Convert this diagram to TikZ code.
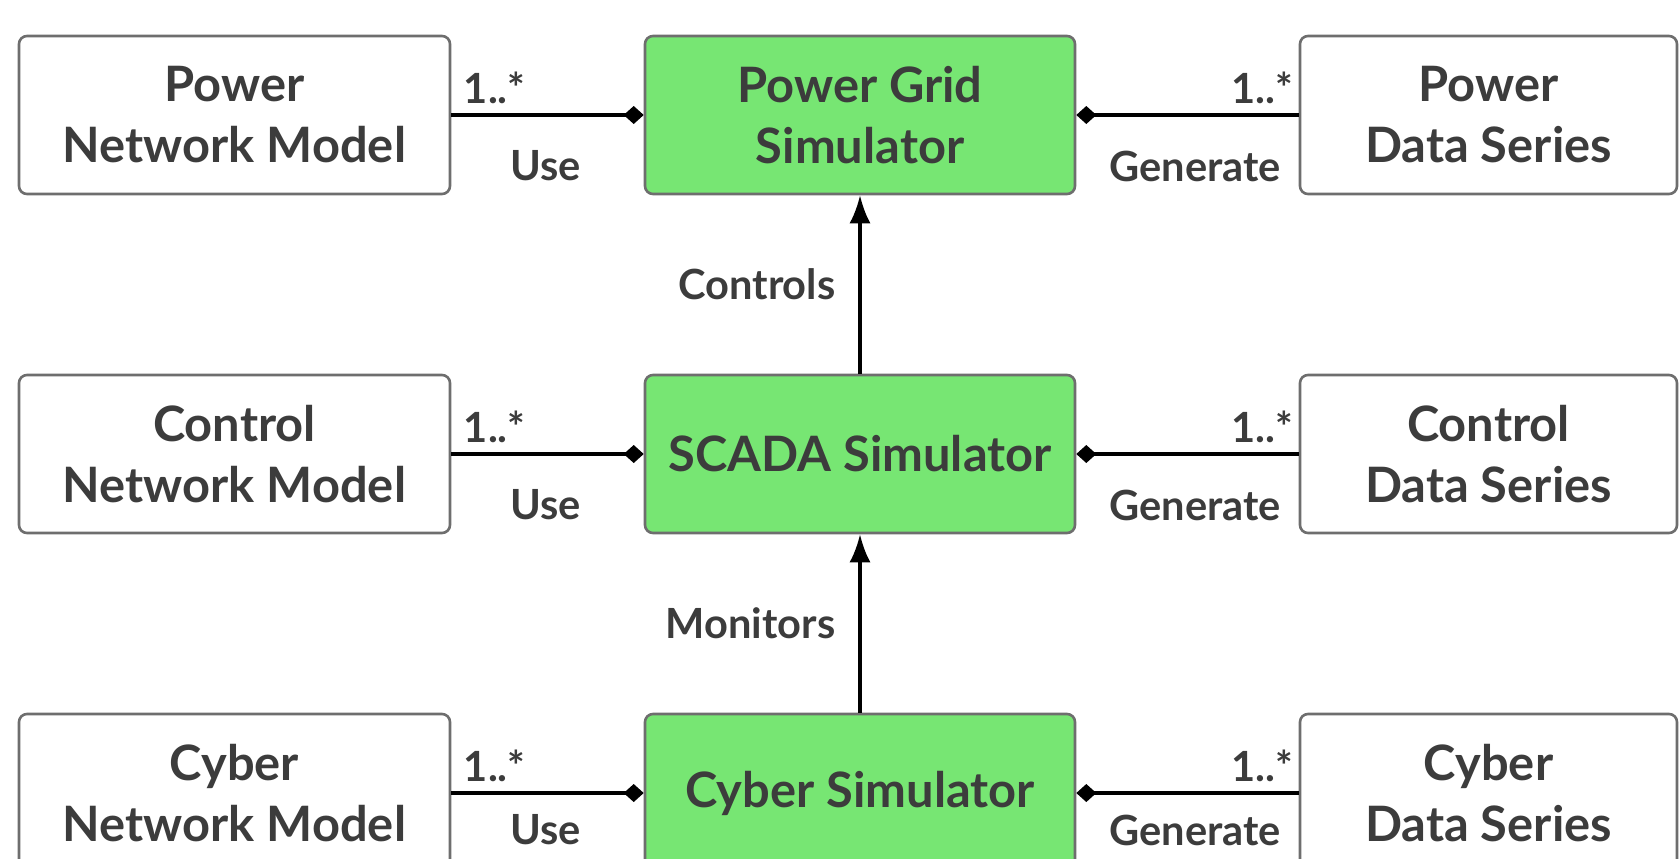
\documentclass[tikz,border=0pt]{standalone}
\usepackage{fontspec}
\setmainfont{Lato}
\usetikzlibrary{arrows.meta}

\definecolor{simgreen}{HTML}{77E673}
\definecolor{boxgray}{HTML}{6E6E6E}
\definecolor{txtgray}{HTML}{3C3C3C}

\tikzset{
  model/.style={draw=boxgray, line width=1.3pt, rounded corners=4pt, fill=white,
    minimum width=215.5pt, minimum height=79pt, align=center, text=txtgray,
    font=\bfseries\fontsize{24.4}{30.5}\selectfont},
  sim/.style={model, fill=simgreen, minimum width=215pt},
  series/.style={model, minimum width=188.5pt},
  uses/.style={line width=1.6pt, -{Diamond[length=10pt,width=9pt]}},
  gens/.style={line width=1.6pt, {Diamond[length=10pt,width=9pt]}-},
  flows/.style={line width=1.6pt, -{Latex[length=14pt,width=10.5pt]}},
  lbl/.style={text=txtgray, font=\bfseries\fontsize{20.8}{24}\selectfont, inner sep=0pt},
}

\begin{document}
\begin{tikzpicture}[x=0.5pt, y=-0.5pt]
  \clip (0,0) rectangle (1680,858);

  % models, simulators, data series
  \node[model]  (pnm) at (234.5, 115) {Power\\Network Model};
  \node[sim]    (pgs) at (860, 115)   {Power Grid\\Simulator};
  \node[series] (pds) at (1488.5, 115) {Power\\Data Series};

  \node[model]  (cnm) at (234.5, 454) {Control\\Network Model};
  \node[sim]    (scs) at (860, 454)   {SCADA Simulator};
  \node[series] (cds) at (1488.5, 454) {Control\\Data Series};

  \node[model]  (ynm) at (234.5, 793) {Cyber\\Network Model};
  \node[sim]    (ycs) at (860, 793)   {Cyber Simulator};
  \node[series] (yds) at (1488.5, 793) {Cyber\\Data Series};

  % use / generate links
  \draw[uses] (pnm) -- (pgs)
    node[pos=0, anchor=south west, xshift=5.5pt, yshift=5pt, lbl] {1..*}
    node[pos=0.49, below=17pt, lbl] {Use};
  \draw[gens] (pgs) -- (pds)
    node[pos=1, anchor=south east, xshift=-2pt, yshift=5pt, lbl] {1..*}
    node[pos=1, anchor=north east, xshift=-8pt, yshift=-17pt, lbl] {Generate};

  \draw[uses] (cnm) -- (scs)
    node[pos=0, anchor=south west, xshift=5.5pt, yshift=5pt, lbl] {1..*}
    node[pos=0.49, below=17pt, lbl] {Use};
  \draw[gens] (scs) -- (cds)
    node[pos=1, anchor=south east, xshift=-2pt, yshift=5pt, lbl] {1..*}
    node[pos=1, anchor=north east, xshift=-8pt, yshift=-17pt, lbl] {Generate};

  \draw[uses] (ynm) -- (ycs)
    node[pos=0, anchor=south west, xshift=5.5pt, yshift=5pt, lbl] {1..*}
    node[pos=0.49, below=10pt, lbl] {Use};
  \draw[gens] (ycs) -- (yds)
    node[pos=1, anchor=south east, xshift=-2pt, yshift=5pt, lbl] {1..*}
    node[pos=1, anchor=north east, xshift=-8pt, yshift=-10pt, lbl] {Generate};

  % control flow between simulators
  \draw[flows] (scs) -- (pgs) node[midway, left=11.5pt, lbl] {Controls};
  \draw[flows] (ycs) -- (scs) node[midway, left=11.5pt, lbl] {Monitors};
\end{tikzpicture}
\end{document}
